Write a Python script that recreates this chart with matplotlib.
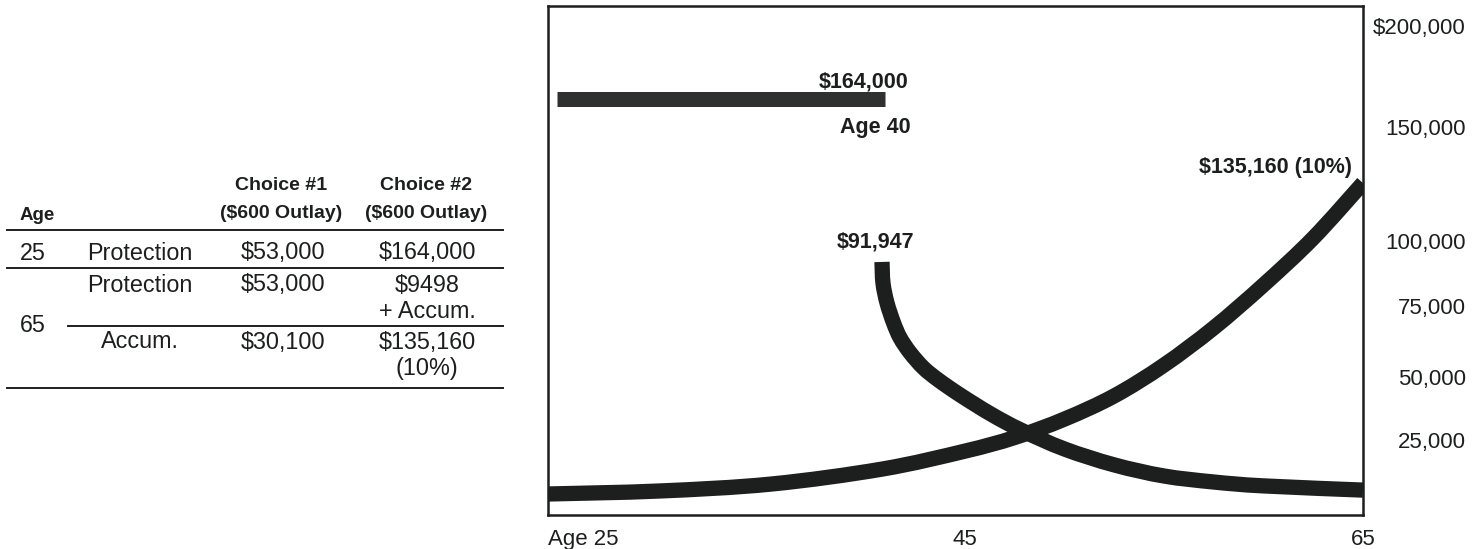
import numpy as np
import matplotlib
matplotlib.use("Agg")
import matplotlib.pyplot as plt
from matplotlib.path import Path
from matplotlib.patches import PathPatch

plt.rcParams['font.family'] = ['Liberation Sans', 'DejaVu Sans']

# --- chart data ---
accum_age = [25, 30, 35, 40, 45, 47.5, 50, 52.5, 55, 57.5, 60, 62.5, 65]
accum_val = [7000, 8000, 10300, 15300, 21300, 26000, 33300, 42500, 54200,
             67300, 83100, 101300, 125400]

prot_age = [40, 40.06, 40.3, 40.7, 41.1, 41.7, 42.5, 43.4, 44.7, 46.3, 47.8,
            50, 52.5, 55, 57.5, 60, 65]
prot_val = [91947, 83800, 76200, 69000, 63700, 58500, 53200, 48800, 42900,
            35300, 29000, 22000, 16700, 13000, 11000, 9700, 8300]

term_age = [25.4, 40.2]
term_val = [164000, 164000]

ytick_vals = [200000, 150000, 100000, 75000, 50000, 25000]
ytick_labels = ["$200,000", "150,000", "100,000", "75,000", "50,000", "25,000"]
xtick_vals = [25, 45, 65]
xtick_labels = ["Age 25", "45", "65"]

# --- table data ---
table_ages = ["25", "65"]
table_kinds = ["Protection", "Protection", "Accum."]
choice1 = ["$53,000", "$53,000", "$30,100"]
choice2 = ["$164,000", "$9498\n+ Accum.", "$135,160\n(10%)"]
col_heads = ["Choice #1\n($600 Outlay)", "Choice #2\n($600 Outlay)"]

INK = '#1c1f1e'


def piecewise(src, dst):
    # linear between knots, linear extrapolation outside
    src = np.asarray(src, float)
    dst = np.asarray(dst, float)

    def f(v):
        v = np.asarray(v, float)
        out = np.interp(v, src, dst)
        lo_slope = (dst[1] - dst[0]) / (src[1] - src[0])
        hi_slope = (dst[-1] - dst[-2]) / (src[-1] - src[-2])
        out = np.where(v < src[0], dst[0] + (v - src[0]) * lo_slope, out)
        out = np.where(v > src[-1], dst[-1] + (v - src[-1]) * hi_slope, out)
        return out
    return f


def smooth_line(ax, xs, ys, **kw):
    # draw a smooth (Catmull-Rom style) curve through the points, in axes space
    to_axes = ax.transData + ax.transAxes.inverted()
    p = to_axes.transform(np.column_stack([xs, ys]))
    ext = np.vstack([p[0], p, p[-1]])
    verts = [p[0]]
    codes = [Path.MOVETO]
    for i in range(len(p) - 1):
        c1 = ext[i + 1] + (ext[i + 2] - ext[i]) / 6
        c2 = ext[i + 2] - (ext[i + 3] - ext[i + 1]) / 6
        verts += [c1, c2, ext[i + 2]]
        codes += [Path.CURVE4] * 3
    patch = PathPatch(Path(verts, codes), fill=False, transform=ax.transAxes, **kw)
    ax.add_patch(patch)
    return patch


# the printed axes are hand-drawn and not evenly spaced
x_knots = [25, 40, 45, 65]
x_pos = [0, 334, 417, 815]
y_knots = [0, 25000, 50000, 75000, 100000, 150000, 200000]
y_pos = [0, 75, 138, 209, 274, 388, 489]

W, H = 1481, 549
fig = plt.figure(figsize=(W / 100, H / 100), dpi=100)
fig.patch.set_facecolor('white')

ax = fig.add_axes([548 / W, 34 / H, 815 / W, 509 / H])
ax.set_xscale('function', functions=(piecewise(x_knots, x_pos), piecewise(x_pos, x_knots)))
ax.set_yscale('function', functions=(piecewise(y_knots, y_pos), piecewise(y_pos, y_knots)))
ax.set_xlim(25, 65)
ax.set_ylim(0, 209900)

ax.plot(term_age, term_val, color='#2f3130', lw=10.8, solid_capstyle='butt')
smooth_line(ax, accum_age, accum_val, edgecolor=INK, lw=11,
            capstyle='butt', joinstyle='round')
smooth_line(ax, prot_age, prot_val, edgecolor=INK, lw=11,
            capstyle='butt', joinstyle='round')

for s in ax.spines.values():
    s.set_linewidth(1.8)
    s.set_color(INK)

ax.yaxis.tick_right()
ax.set_yticks(ytick_vals, ytick_labels)
ax.tick_params(axis='y', length=0, pad=74, labelsize=16, labelcolor=INK)
for lab in ax.get_yticklabels():
    lab.set_horizontalalignment('right')
ax.set_xticks(xtick_vals, xtick_labels)
ax.tick_params(axis='x', length=0, pad=10, labelsize=16, labelcolor=INK)
ax.get_xticklabels()[0].set_horizontalalignment('left')
ax.minorticks_off()

bold = dict(fontsize=15.5, fontweight='bold', color=INK, textcoords='offset points')
ax.annotate("$164,000", (term_age[1], term_val[1]), xytext=(-15.8, 12.2),
            ha='center', va='center', **bold)
ax.annotate("Age 40", (term_age[1], term_val[1]), xytext=(-7.2, -20.9),
            ha='center', va='center', **bold)
ax.annotate("$91,947", (prot_age[0], prot_val[0]), xytext=(-5, 14.4),
            ha='center', va='center', **bold)
ax.annotate("$135,160 (10%)", (accum_age[-1], accum_val[-1]), xytext=(-8, 11.5),
            ha='right', va='center', **bold)

# --- table on the left, laid out in pixel units ---
tb = fig.add_axes([0, 0, 520 / W, 1])
tb.set_xlim(0, 520)
tb.set_ylim(H, 0)
tb.axis('off')

reg = dict(fontsize=16.8, color=INK, va='center')
hdr = dict(fontsize=14, fontweight='bold', color=INK, va='center', ha='center')

tb.text(20, 215, "Age", fontsize=13.5, fontweight='bold', color=INK, va='center')
for cx, head in zip([281, 426], col_heads):
    for i, line in enumerate(head.split("\n")):
        tb.text(cx, 185 + i * 28, line, **hdr)

row_y = [253, 285, 342]
line_gap = 26
for y, kind, c1, c2 in zip(row_y, table_kinds, choice1, choice2):
    tb.text(140, y, kind, ha='center', **reg)
    tb.text(283, y, c1, ha='center', **reg)
    for i, line in enumerate(c2.split("\n")):
        tb.text(427, y + i * line_gap, line, ha='center', **reg)

tb.text(20, 253, table_ages[0], ha='left', **reg)
tb.text(20, 325, table_ages[1], ha='left', **reg)

for y, x0 in [(230, 7), (268, 7), (326, 68), (388, 7)]:
    tb.plot([x0, 503], [y, y], color=INK, lw=1.4)

fig.savefig("out.png", dpi=100, facecolor='white')
